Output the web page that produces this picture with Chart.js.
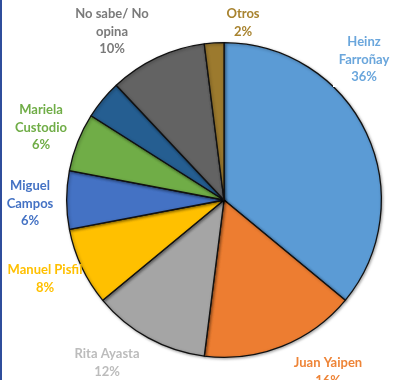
<!DOCTYPE html>
<html>
<head>
<meta charset="utf-8">
<script src="https://cdn.jsdelivr.net/npm/chart.js@4.4.1/dist/chart.umd.min.js"></script>
<style>
  html, body { margin: 0; padding: 0; background: #fff; }
  #wrap { position: relative; width: 394px; height: 380px; overflow: hidden; }
  #wrap::before { content: ""; position: absolute; left: 0; top: 0; width: 2px; height: 380px; background: #2f4d9c; z-index: 2; }
  canvas { display: block; }
</style>
</head>
<body>
<div id="wrap"><canvas id="pie" width="394" height="380"></canvas></div>
<script>
"use strict";

// encuesta: intención de voto (%)
const candidates = ["Heinz Farroñay", "Juan Yaipen", "Rita Ayasta", "Manuel Pisfil", "Miguel Campos", "Mariela Custodio", "", "No sabe/ No opina", "Otros"];
const shares = [36, 16, 12, 8, 6, 6, 4, 10, 2];
const labelLines = [["Heinz", "Farroñay"], ["Juan Yaipen"], ["Rita Ayasta"], ["Manuel Pisfil"], ["Miguel", "Campos"], ["Mariela", "Custodio"], [], ["No sabe/ No", "opina"], ["Otros"]];

const sliceColors = ["#5b9bd5", "#ed7d31", "#a5a5a5", "#ffc000", "#4472c4", "#70ad47", "#255e91", "#636363", "#9c7a2e"];
const textColors = ["#6aa6dc", "#ee8437", "#bcbcbc", "#ffc000", "#4472c4", "#70ad47", "#255e91", "#7a7a7a", "#a8832f"];
// centro del primer renglón de cada etiqueta
const labelAt = [[364, 42], [328, 363], [107, 354], [45, 270], [30, 186], [41, 110], null, [112, 14], [243, 14]];

const outsideLabels = {
  id: "outsideLabels",
  beforeDatasetsDraw(chart) {
    const ctx = chart.ctx;
    ctx.save();
    ctx.shadowColor = "rgba(0,0,0,0.35)";
    ctx.shadowBlur = 3;
    ctx.shadowOffsetX = 1;
    ctx.shadowOffsetY = 1;
  },
  afterDatasetsDraw(chart) {
    const ctx = chart.ctx;
    ctx.restore();
    ctx.save();
    // recuadro blanco de la etiqueta de Heinz
    ctx.fillStyle = "#fff";
    ctx.fillRect(333, 28, 61, 59);
    ctx.font = "bold 13px Lato, 'Open Sans', sans-serif";
    ctx.textAlign = "center";
    ctx.textBaseline = "middle";
    shares.forEach((v, i) => {
      if (!labelAt[i]) return;
      const lines = labelLines[i].concat([v + "%"]);
      ctx.fillStyle = textColors[i];
      lines.forEach((t, k) => {
        ctx.fillText(t, labelAt[i][0], labelAt[i][1] + k * 17.5);
      });
    });
    ctx.restore();
  }
};

new Chart(document.getElementById("pie"), {
  type: "pie",
  data: {
    labels: candidates,
    datasets: [{
      data: shares,
      backgroundColor: sliceColors,
      borderColor: "#111",
      borderWidth: 1.3
    }]
  },
  options: {
    responsive: false,
    animation: false,
    layout: { padding: { top: 42, bottom: 22, left: 66, right: 12 } },
    plugins: {
      legend: { display: false },
      tooltip: { enabled: false }
    }
  },
  plugins: [outsideLabels]
});
</script>
</body>
</html>
